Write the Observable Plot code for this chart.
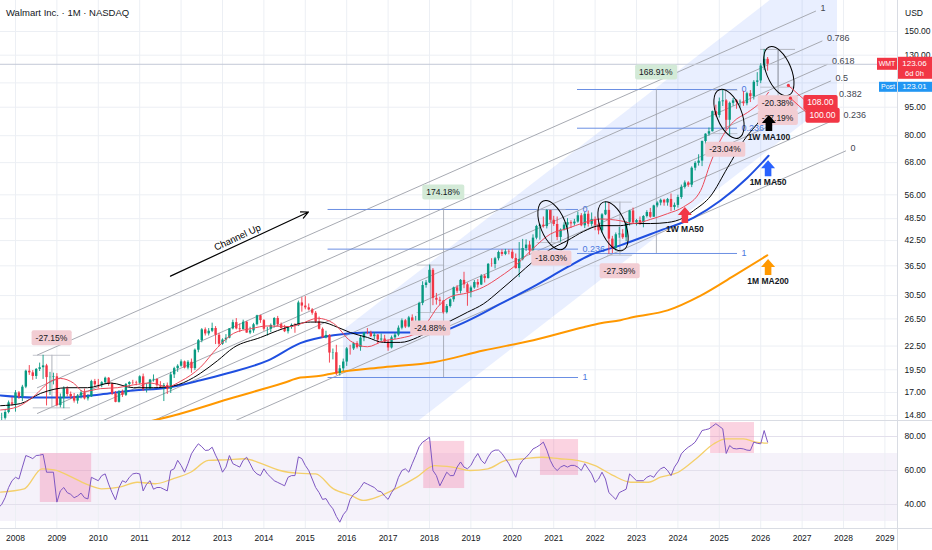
<!DOCTYPE html>
<html><head><meta charset="utf-8">
<script src="https://cdn.jsdelivr.net/npm/d3@7"></script>
<script src="https://cdn.jsdelivr.net/npm/@observablehq/plot@0.6"></script>
<style>
body{margin:0;background:#fff;}
#chart{position:relative;width:932px;height:550px;overflow:hidden;background:#fff;font-family:"Liberation Sans Narrow","Liberation Sans",Arial,sans-serif;color:#131722;}
#title{position:absolute;left:6px;top:7px;font-size:9.5px;z-index:5;}
#usd{position:absolute;left:905px;top:8px;font-size:8.5px;z-index:5;}
.pane{position:absolute;left:0;}
.sep{position:absolute;background:#d9dce3;z-index:4;}
</style></head><body>
<div id="chart">
  <div id="pricePane" class="pane" style="top:0"></div>
  <div id="rsiPane" class="pane" style="top:420px"></div>
  <div class="sep" style="left:0;top:420px;width:932px;height:1px"></div>
  <div class="sep" style="left:897px;top:0;width:1px;height:550px"></div>
  <div class="sep" style="left:0;top:528px;width:932px;height:1px"></div>
  <div id="title">Walmart Inc. · 1M · NASDAQ</div>
  <div id="usd">USD</div>
</div>
<script>
// ---------------- DATA ----------------
const firstMonth = {year: 2007, month: 8}; // first monthly candle: Aug 2007
const open = [
  14.55,14.54,14.55,15.07,15.97,
  15.84,16.96,16.53,17.56,19.33,19.14,18.73,19.54,19.74,19.96,18.60,18.63,
  18.69,15.71,16.41,17.37,16.80,16.56,16.14,16.63,16.96,16.36,16.56,18.16,
  17.81,17.80,18.03,18.53,17.87,16.85,16.02,17.06,16.71,17.84,18.06,18.03,
  17.98,18.69,17.32,17.35,18.33,18.40,17.71,17.57,17.74,17.30,18.91,19.63,
  19.92,20.45,19.70,20.40,19.63,21.94,23.24,24.81,24.21,24.60,25.01,24.01,
  22.74,23.33,23.59,24.95,25.91,24.95,24.83,25.97,24.33,24.65,25.58,27.01,
  26.23,24.90,24.91,25.48,26.57,25.59,25.02,24.53,25.17,25.49,25.42,29.18,
  28.63,28.33,27.97,27.42,26.01,24.89,23.64,23.99,21.57,21.61,19.08,19.61,
  20.43,22.12,22.11,22.83,22.29,23.60,24.34,24.32,23.81,24.04,23.34,23.47,
  23.04,22.24,23.64,24.03,25.06,26.20,25.23,26.66,26.02,26.05,29.10,32.41,
  32.92,35.53,30.00,29.66,29.49,27.51,28.55,29.74,31.95,31.30,33.43,32.55,
  31.05,31.94,33.00,32.51,34.28,33.80,36.83,36.79,38.09,39.56,39.09,39.70,
  39.61,38.16,35.89,37.87,40.51,41.36,39.93,43.13,46.28,46.64,46.25,50.94,
  48.05,46.83,43.31,45.27,46.64,47.34,47.00,47.52,49.36,46.46,49.81,46.87,
  48.23,46.60,45.06,49.64,51.00,42.88,40.53,44.02,44.20,43.23,47.44,50.81,
  47.26,47.96,47.36,49.15,50.33,48.93,52.39,53.29,54.20,53.31,54.47,51.90,
  52.55,55.10,58.61,60.17,59.35,65.76,67.71,68.64,77.23,80.75,81.94,92.50,
  90.35,98.16,98.68,87.79,97.25,98.72,97.78,97.95,97.01,103.06,101.19,110.40,
  111.30,121.80,126.80
];
const high = [
  15.05,15.00,15.35,16.15,16.50,
  17.20,17.10,17.75,19.45,20.00,19.40,19.65,20.30,21.28,20.15,19.20,19.10,
  19.05,16.85,17.60,17.60,17.05,16.90,16.80,17.20,17.35,16.80,18.30,18.40,
  18.40,18.15,18.65,18.60,18.00,17.10,17.20,17.25,17.95,18.15,18.30,18.20,
  18.80,19.00,17.90,18.40,18.90,18.45,18.15,17.95,18.00,19.20,19.80,20.10,
  20.70,20.55,20.60,20.80,22.10,23.40,25.00,25.10,25.00,25.83,25.30,24.30,
  23.50,24.10,25.00,26.30,26.55,25.70,26.30,26.10,25.20,25.80,27.09,27.10,
  26.40,25.20,25.70,26.70,26.90,25.85,25.50,25.30,25.70,25.75,29.50,30.13,
  30.32,29.00,28.20,27.70,26.80,25.10,24.60,24.10,22.10,22.60,20.00,20.80,
  22.30,22.60,23.00,23.10,23.90,24.40,25.00,24.60,24.40,24.10,24.20,24.00,
  23.30,23.90,24.30,25.40,26.50,26.40,26.90,27.15,26.90,29.30,33.15,33.40,
  36.66,35.90,30.90,30.20,29.60,28.90,29.90,32.10,32.40,33.60,35.10,32.90,
  32.30,33.40,33.60,34.60,34.60,37.00,38.10,38.40,39.90,40.20,40.30,40.20,
  40.30,39.20,42.00,42.80,42.70,42.30,44.00,46.60,46.90,49.00,51.22,51.00,
  49.20,49.00,45.60,47.30,48.50,47.90,48.30,50.50,50.00,50.40,50.80,50.20,
  49.00,47.30,50.00,53.59,53.40,43.60,44.50,46.00,45.40,47.60,51.00,51.70,
  48.30,49.00,49.40,50.90,51.60,52.60,53.70,54.60,54.50,54.80,56.30,53.30,
  55.90,59.40,60.90,60.60,66.30,68.40,71.30,77.50,80.90,83.80,92.80,96.18,
  100.40,105.30,99.40,98.00,100.10,99.40,99.20,104.50,104.00,105.00,111.50,117.00,
  123.50,134.60,128.20
];
const low = [
  13.95,14.30,14.40,14.95,15.65,
  15.10,16.30,16.10,17.40,18.85,18.30,18.40,19.30,18.40,15.68,16.70,17.80,
  15.60,15.50,15.42,16.55,16.30,15.95,15.85,16.35,16.25,16.15,16.50,17.60,
  17.40,17.50,17.90,17.65,16.70,15.98,15.95,16.50,16.60,17.55,17.80,17.70,
  17.80,17.10,16.95,17.20,18.10,17.55,17.50,16.10,16.80,16.90,18.50,19.20,
  19.80,19.60,19.50,19.10,19.40,21.60,22.95,23.90,23.90,24.40,22.70,22.40,
  22.60,22.90,23.50,24.80,24.80,24.40,24.80,24.30,24.10,24.30,25.40,25.80,
  24.60,23.90,24.40,25.10,25.30,24.90,24.40,24.20,24.90,24.30,25.30,27.60,
  28.00,27.80,27.10,25.80,24.80,23.60,23.50,20.30,20.70,18.84,18.77,19.30,
  19.90,21.30,21.90,22.10,21.80,23.10,24.10,23.70,23.40,22.70,22.90,22.90,
  21.80,22.10,23.40,23.80,24.80,25.00,25.10,25.80,25.80,25.90,28.70,31.90,
  32.80,28.70,28.80,28.70,27.26,27.30,28.30,29.30,30.90,30.80,31.80,28.60,
  30.10,31.70,31.90,32.40,32.90,33.70,36.20,35.80,37.60,38.60,38.80,39.00,
  37.90,35.80,34.00,37.60,39.80,38.90,39.60,42.70,42.60,45.80,45.60,47.30,
  46.30,42.50,42.09,45.00,45.40,45.70,46.40,47.20,46.20,45.70,46.10,46.20,
  45.10,44.00,44.40,49.40,39.09,39.30,39.90,43.10,42.80,42.20,46.40,47.00,
  46.40,46.60,45.90,48.70,48.60,48.90,51.80,52.40,52.30,52.30,50.60,51.00,
  51.70,54.50,58.00,58.60,58.50,64.70,66.60,66.40,75.80,79.70,81.80,89.50,
  89.00,95.40,82.80,79.81,95.50,93.80,94.40,95.50,95.80,97.70,99.20,107.60,
  109.50,118.50,118.00
];
const close = [
  14.54,14.55,15.07,15.97,15.84,
  16.96,16.53,17.56,19.33,19.14,18.73,19.54,19.74,19.96,18.60,18.63,18.69,
  15.71,16.41,17.37,16.80,16.56,16.14,16.63,16.96,16.36,16.56,18.16,17.81,
  17.80,18.03,18.53,17.87,16.85,16.02,17.06,16.71,17.84,18.06,18.03,17.98,
  18.69,17.32,17.35,18.33,18.40,17.71,17.57,17.74,17.30,18.91,19.63,19.92,
  20.45,19.70,20.40,19.63,21.94,23.24,24.81,24.21,24.60,25.01,24.01,22.74,
  23.33,23.59,24.95,25.91,24.95,24.83,25.97,24.33,24.65,25.58,27.01,26.23,
  24.90,24.91,25.48,26.57,25.59,25.02,24.53,25.17,25.49,25.42,29.18,28.63,
  28.33,27.97,27.42,26.01,24.89,23.64,23.99,21.57,21.61,19.08,19.61,20.43,
  22.12,22.11,22.83,22.29,23.60,24.34,24.32,23.81,24.04,23.34,23.47,23.04,
  22.24,23.64,24.03,25.06,26.20,25.23,26.66,26.02,26.05,29.10,32.41,32.92,
  35.53,30.00,29.66,29.49,27.51,28.55,29.74,31.95,31.30,33.43,32.55,31.05,
  31.94,33.00,32.51,34.28,33.80,36.83,36.79,38.09,39.56,39.09,39.70,39.61,
  38.16,35.89,37.87,40.51,41.36,39.93,43.13,46.28,46.64,46.25,50.94,48.05,
  46.83,43.31,45.27,46.64,47.34,47.00,47.52,49.36,46.46,49.81,46.87,48.23,
  46.60,45.06,49.64,51.00,42.88,40.53,44.02,44.20,43.23,47.44,50.81,47.26,
  47.96,47.36,49.15,50.33,48.93,52.39,53.29,54.20,53.31,54.47,51.90,52.55,
  55.10,58.61,60.17,59.35,65.76,67.71,68.64,77.23,80.75,81.94,92.50,90.35,
  98.16,98.68,87.79,97.25,98.72,97.78,97.95,97.01,103.06,101.19,110.40,111.30,
  121.80,126.80,123.06
];
const rsi = [
  38,40,44,50,54,
  56,55,62,68.8,68,67,68.8,69,69.5,59,59,59,
  41.4,48,50,47,46,44,45,46.7,44,43.3,56,55,
  54,57,58,52,47,42.7,50,54,53,56,58,58.4,
  58,48,52,54,49,50,50,49,48,60,61,66,
  63,59,64,69.8,73,75.7,74,71.8,72,73.7,69,64.9,
  59,62,68.8,64,63,62,66,67.8,64,60,58,57,
  61,58,56,54,53,52,51,56,57,57,68,67,
  63,60,55,50,47,43,43.5,40,37.5,33,29.6,34,
  36.5,43,46,47.3,50,53,52,51,50,48,47.5,45,
  43,47,50,56,60,61,59,64,68.8,74,76.7,78,
  79.6,60,57,51,55,59,57,57,62,65,62,61,
  63,67,70,66,64,68,71,72,72,70,67,64,
  60,56,63,66,67.8,70,72.7,73.7,75,76.7,72,66,
  62,60,62,63,62,63,63,62,60,64,61,58,
  53,55,59,55,47,45,43,47,48,49,58,56,
  54,54,54,56,57,56,59,61,62,60,57,62,
  65,69.8,72,73.7,75,76.7,80,83.5,84,84.5,86,87.5,
  86,84.5,70,74.7,73,72.7,73,72.7,72,71.8,76.7,76,
  75.7,83.5,76.7
];
// RSI-based moving average, read at sample dates (decimal years)
const rsiMaT = [2007.64,2008.21,2008.64,2008.93,2009.36,2009.79,2010.08,2010.51,2010.94,2011.37,2011.80,2012.23,2012.66,2013.09,2013.53,2013.96,2014.39,2014.82,2015.25,2015.68,2016.11,2016.40,2016.83,2017.26,2017.69,2018.12,2018.55,2018.98,2019.41,2019.85,2020.28,2020.71,2021.14,2021.57,2022.00,2022.43,2022.86,2023.29,2023.58,2024.01,2024.44,2024.87,2025.16,2025.59,2025.88,2026.16];
const rsiMaV = [47.3,49.2,61.0,60.4,56.1,51.2,49.2,50.2,53.1,52.2,55.1,59.0,65.9,66.3,66.9,63.9,60.0,58.4,58.0,49.2,45.3,42.4,45.3,50.2,56.1,62.9,62.0,60.0,61.0,65.9,66.9,67.8,66.9,65.9,62.9,57.1,53.1,53.1,56.1,59.0,66.9,75.7,78.6,78.6,76.7,76.1];
// moving averages read at sample dates
const ma1wFiftyT = [2007.64,2008.05,2008.44,2008.85,2009.09,2009.40,2009.64,2010.05,2010.46,2010.85,2011.26,2011.67,2011.99,2012.47,2012.88,2013.27,2013.70,2014.09,2014.64,2014.88,2015.30,2015.68,2016.09,2016.50,2016.89,2017.30,2017.71,2017.95,2018.19,2018.51,2018.92,2019.30,2019.71,2020.13,2020.51,2020.92,2021.33,2021.72,2022.13,2022.61,2022.93,2023.34,2023.75,2024.14,2024.55,2024.79,2025.03,2025.34,2025.68,2026.00,2026.19];
const ma1wFiftyV = [15.3,15.6,16.6,18.2,18.5,18.0,17.1,17.4,17.5,17.8,18.0,17.6,18.2,19.8,22.3,24.3,25.0,25.4,25.3,25.7,26.6,25.8,23.2,22.4,23.2,23.6,24.4,26.0,28.4,30.3,31.0,32.1,34.2,37.0,40.6,44.2,45.7,47.3,48.4,47.9,47.1,48.3,50.0,52.1,57.5,68.0,78.0,87.0,92.0,98.0,104.0];
const ma1wHundredT = [2007.64,2008.12,2008.60,2009.26,2009.74,2010.30,2010.85,2011.33,2011.82,2012.30,2012.47,2012.88,2013.27,2013.92,2014.47,2015.13,2015.37,2015.78,2016.09,2016.50,2016.89,2017.30,2017.71,2018.10,2018.51,2018.92,2019.30,2019.71,2020.13,2020.51,2020.92,2021.33,2021.72,2022.13,2022.61,2022.93,2023.34,2023.75,2024.14,2024.38,2024.79,2025.20,2025.59,2026.00,2026.19];
const ma1wHundredV = [15.7,15.9,16.9,17.5,17.5,18.0,17.5,17.5,17.7,18.6,19.1,20.6,22.3,23.7,25.0,26.0,26.0,25.2,24.4,23.7,23.0,23.0,23.7,25.0,26.2,27.6,29.0,31.5,34.5,37.5,40.3,42.5,44.9,46.5,46.5,47.1,47.1,47.4,48.8,50.9,55.6,66.0,77.7,88.2,94.2];
const ma1mFiftyT = [2007.64,2008.44,2009.26,2010.05,2010.85,2011.67,2012.47,2013.12,2014.09,2014.88,2015.68,2016.50,2017.30,2018.10,2018.92,2019.71,2020.51,2021.33,2021.87,2022.61,2023.58,2024.38,2025.03,2025.68,2026.19];
const ma1mFiftyV = [16.7,16.5,16.5,16.8,17.2,17.5,18.3,19.1,20.6,22.9,24.0,24.4,24.4,24.4,26.2,29.0,32.2,36.2,38.9,41.3,45.2,48.8,54.1,62.1,70.9];
const ma1mTwoHundredT = [2010.05,2011.82,2013.27,2014.47,2014.88,2015.37,2015.68,2016.89,2018.10,2019.30,2020.51,2021.72,2022.13,2022.61,2022.93,2023.75,2024.55,2025.34,2026.16];
const ma1mTwoHundredV = [13.4,14.8,16.5,18.0,18.6,18.8,19.1,19.8,20.4,21.9,23.3,25.2,25.8,26.3,26.8,27.9,30.5,34.3,38.9];
// axis ticks
const priceTicks = [14.8,17,19.5,22.5,26.5,30.5,36.5,42.5,48.5,56,68,80,95,110,130,150];
const priceLabelTicks = [14.8,17,19.5,22.5,26.5,30.5,36.5,42.5,48.5,56,68,80,95,130,150];
const years = [2008,2009,2010,2011,2012,2013,2014,2015,2016,2017,2018,2019,2020,2021,2022,2023,2024,2025,2026,2027,2028,2029];
const rsiTicks = [40,60,80];
const rsiBandLevels = [30,70];
// drawings (anchors in date / price)
const channelBand = [{t: 2015.923, lo: 10.07, hi: 24.72}, {t: 2027.855, lo: 100.7, hi: 247.5}];
const chanLevels = [0, 0.236, 0.382, 0.5, 0.618, 0.786, 1];
const chanStart = {t: 2008.53, p: 8.47};
const chanEnd = {t: 2028.05, p: 72.96};
const chanLevelOneRatio = 2.517;
const chanEndSlantYears = 0.725;
const fibs = [{t1: 2015.55, t2: 2021.60, hi: 51.27, lo: 18.61}, {t1: 2021.575, t2: 2025.44, hi: 105.7, lo: 39.32}];
const fibLevels = [0, 0.236, 1];
const ranges = [
  {t1: 2008.43, t2: 2009.33, from: 21.28, to: 15.50, text: "-27.15%", side: "top"},
  {t1: 2017.70, t2: 2018.35, from: 36.66, to: 27.54, text: "-24.88%", side: "bottom"},
  {t1: 2020.60, t2: 2021.30, from: 51.22, to: 42.00, text: "-18.03%", side: "bottom"},
  {t1: 2022.30, t2: 2022.90, from: 53.59, to: 38.91, text: "-27.39%", side: "bottom"},
  {t1: 2024.85, t2: 2025.45, from: 105.3, to: 81.0, text: "-23.04%", side: "bottom"},
  {t1: 2026.00, t2: 2026.84, from: 134.6, to: 107.2, text: "-20.38%", side: "bottom"},
  {t1: 2026.00, t2: 2026.84, from: 134.6, to: 98.0, text: "-27.19%", side: "bottom"}
];
const gains = [
  {t: 2018.34, from: 18.61, to: 51.27, text: "174.18%"},
  {t: 2023.48, from: 39.32, to: 105.7, text: "168.91%"}
];
const circles = [{t: 2020.995, p: 46.5}, {t: 2022.445, p: 46.2}, {t: 2025.246, p: 91.0}, {t: 2026.45, p: 117.7}];
const maArrows = [
  {t: 2024.18, p: 51.9, label: "1W MA50"},
  {t: 2026.21, p: 90.4, label: "1W MA100"},
  {t: 2026.19, p: 68.8, label: "1M MA50"},
  {t: 2026.19, p: 37.9, label: "1M MA200"}
];
const targets = [{t: 2026.68, p: 108}, {t: 2026.73, p: 100}];
const channelUp = {t1: 2011.744, p1: 34.3, t2: 2015.077, p2: 50.5, tText: 2013.36, pText: 43.3, text: "Channel Up"};
const rsiHighlights = [
  {t1: 2008.60, t2: 2009.84, lo: 41.2, hi: 70.0},
  {t1: 2017.86, t2: 2018.85, lo: 49.4, hi: 77.1},
  {t1: 2020.68, t2: 2021.60, lo: 57.1, hi: 78.2},
  {t1: 2024.79, t2: 2025.85, lo: 70.0, hi: 88.2}
];
const ticker = "WMT", postLabel = "Post", postPrice = 123.01, countdown = "6d 0h";

// ---------------- STYLE ----------------
const FONT = '"Liberation Sans Narrow","Liberation Sans",Arial,sans-serif';
const INK = "#131722", GRID = "#eceff4";
const GREEN = "#089981", RED = "#f23645";
const arrowColors = {"1W MA50": RED, "1W MA100": "#000000", "1M MA50": "#2962ff", "1M MA200": "#ff9800"};
const X_DOMAIN = [2007.638, 2029.304];
const Y_DOMAIN = [14.36, 180.8];
const RSI_DOMAIN = [25.9, 89.4];
const W = 932, MR = 35;

// ---------------- DERIVED TABLES ----------------
const monthT = i => firstMonth.year + (firstMonth.month - 1 + i) / 12;
const candles = close.map((c, i) => ({t: monthT(i), o: open[i], h: high[i], l: low[i], c}));
const rsiData = rsi.map((v, i) => ({t: monthT(i), v}));
const zipT = (T, V) => T.map((t, i) => ({t, p: V[i]}));
const maRed = zipT(ma1wFiftyT, ma1wFiftyV), maBlack = zipT(ma1wHundredT, ma1wHundredV);
const maBlue = zipT(ma1mFiftyT, ma1mFiftyV), maOrange = zipT(ma1mTwoHundredT, ma1mTwoHundredV);
const rsiMa = rsiMaT.map((t, i) => ({t, v: rsiMaV[i]}));
const pAtBase = t => chanStart.p * Math.pow(chanEnd.p / chanStart.p, (t - chanStart.t) / (chanEnd.t - chanStart.t));
const chanLines = chanLevels.flatMap(L => {
  const tE = chanEnd.t - chanEndSlantYears * L, k = Math.pow(chanLevelOneRatio, L);
  return [{L, t: chanStart.t, p: chanStart.p * k}, {L, t: tE, p: pAtBase(tE) * k, end: true}];
});
const chanLabels = chanLines.filter(d => d.end);
const fibLines = fibs.flatMap(f => fibLevels.map(L => ({L, t1: f.t1, t2: f.t2,
  p: Math.exp(Math.log(f.hi) - L * (Math.log(f.hi) - Math.log(f.lo)))})));
const rangeTicks = ranges.flatMap(r => [{t1: r.t1, t2: r.t2, p: r.from}, {t1: r.t1, t2: r.t2, p: r.to}]);
const lastClose = close[close.length - 1];
const rsiBand = [{t1: X_DOMAIN[0], t2: X_DOMAIN[1], lo: rsiBandLevels[0], hi: rsiBandLevels[1]}];

// ---------------- PRICE PANE ----------------
const pricePlot = Plot.plot({
  width: W, height: 420, marginTop: 0, marginRight: MR, marginBottom: 0, marginLeft: 0,
  style: {fontFamily: FONT, fontSize: "8.5px", color: INK, background: "transparent", overflow: "hidden"},
  x: {domain: X_DOMAIN, axis: null},
  y: {type: "log", domain: Y_DOMAIN, axis: null},
  marks: [
    Plot.gridX(years, {stroke: GRID, strokeOpacity: 1}),
    Plot.gridY(priceTicks, {stroke: GRID, strokeOpacity: 1}),
    Plot.areaY(channelBand, {x: "t", y1: "lo", y2: "hi", fill: "#2962ff", fillOpacity: 0.1, clip: true}),
    Plot.line(chanLines, {x: "t", y: "p", z: "L", stroke: "#a7aab2", strokeWidth: 1, clip: true}),
    Plot.text(chanLabels, {x: "t", y: "p", text: d => String(d.L), dx: 5, dy: -3, textAnchor: "start", fill: "#434651", fontSize: 9}),
    Plot.ruleY(fibLines, {y: "p", x1: "t1", x2: "t2", stroke: "#6b8fe3", strokeWidth: 1}),
    Plot.text(fibLines, {x: "t2", y: "p", text: d => String(d.L), dx: 4, textAnchor: "start", fill: "#4a78de", fontSize: 9}),
    Plot.ruleY([lastClose], {stroke: "#c3c9d6", strokeWidth: 1}),
    Plot.ruleX(ranges, {x: d => (d.t1 + d.t2) / 2, y1: "from", y2: "to", stroke: "#9aa0ab", strokeWidth: 0.8}),
    Plot.ruleY(rangeTicks, {y: "p", x1: "t1", x2: "t2", stroke: "#b4b8c2", strokeWidth: 0.8}),
    Plot.ruleX(gains, {x: "t", y1: "from", y2: "to", stroke: "#9aa0ab", strokeWidth: 0.8}),
    Plot.arrow([channelUp], {x1: "t1", y1: "p1", x2: "t2", y2: "p2", stroke: "#000", strokeWidth: 1.2, headLength: 10, headAngle: 50}),
    Plot.text([channelUp], {x: "tText", y: "pText", text: "text", rotate: -24.9, fill: "#000", fontSize: 9.5}),
    Plot.line(maOrange, {x: "t", y: "p", stroke: "#ff9800", strokeWidth: 2, curve: "monotone-x", clip: true}),
    Plot.line(maBlue, {x: "t", y: "p", stroke: "#1f4fe0", strokeWidth: 2, curve: "monotone-x", clip: true}),
    Plot.ruleX(candles, {x: "t", y1: "l", y2: "h", stroke: d => d.c >= d.o ? GREEN : RED, strokeWidth: 0.9, clip: true}),
    Plot.ruleX(candles, {x: "t", y1: "o", y2: "c", stroke: d => d.c >= d.o ? GREEN : RED, strokeWidth: 2.4, clip: true}),
    Plot.line(maBlack, {x: "t", y: "p", stroke: "#000", strokeWidth: 1, curve: "monotone-x", clip: true}),
    Plot.line(maRed, {x: "t", y: "p", stroke: "#ec4a5a", strokeWidth: 1, curve: "monotone-x", clip: true}),
    Plot.axisY(priceLabelTicks, {anchor: "right", tickSize: 0, tickPadding: 7, tickFormat: d => d.toFixed(2), fill: INK, label: null})
  ]
});
document.getElementById("pricePane").append(pricePlot);

// annotation layer drawn through the plot's own scales
const sx = pricePlot.scale("x"), sy = pricePlot.scale("y");
const X = t => sx.apply(t), Y = p => sy.apply(p);
const AX = W - MR;
const g = d3.select(pricePlot).append("g").attr("font-family", FONT).attr("font-size", 8.5).attr("text-anchor", "start");

function boxLabel(parent, cx, cy, text, fill, color, padX = 4, h = 15, anchor = "middle", weight = "normal") {
  const grp = parent.append("g");
  const t = grp.append("text").attr("x", cx).attr("y", cy).attr("text-anchor", anchor)
    .attr("dominant-baseline", "central").attr("fill", color).attr("font-weight", weight).text(text);
  const bb = t.node().getBBox();
  grp.insert("rect", "text").attr("x", bb.x - padX).attr("y", cy - h / 2).attr("width", bb.width + 2 * padX)
    .attr("height", h).attr("rx", 2).attr("fill", fill);
  return grp;
}

// ellipses
g.selectAll("ellipse").data(circles).join("ellipse")
  .attr("cx", d => X(d.t)).attr("cy", d => Y(d.p)).attr("rx", 12.5).attr("ry", 26)
  .attr("transform", d => `rotate(-22 ${X(d.t)} ${Y(d.p)})`)
  .attr("fill", "none").attr("stroke", "#000").attr("stroke-width", 1);

// percentage boxes
ranges.forEach(r => {
  const cx = X((r.t1 + r.t2) / 2);
  const cy = r.side === "top" ? Y(Math.max(r.from, r.to)) - 17 : Y(Math.min(r.from, r.to)) + 16;
  boxLabel(g, cx, cy, r.text, "#f2cdd3", INK);
});
gains.forEach(r => boxLabel(g, X(r.t), Y(Math.max(r.from, r.to)) - 17, r.text, "#d3ead7", INK));

// block arrows under the moving averages
maArrows.forEach(a => {
  const x = X(a.t), y = Y(a.p);
  g.append("path").attr("d", `M${x},${y} L${x + 7},${y + 8} L${x + 3.3},${y + 8} L${x + 3.3},${y + 16} L${x - 3.3},${y + 16} L${x - 3.3},${y + 8} L${x - 7},${y + 8} Z`)
    .attr("fill", arrowColors[a.label]);
  g.append("text").attr("x", x).attr("y", y + 22).attr("text-anchor", "middle").attr("dominant-baseline", "central")
    .attr("font-weight", "bold").attr("fill", INK).attr("font-size", 8.5).text(a.label);
});

// targets
targets.forEach(d => {
  const x = X(d.t), y = Y(d.p);
  g.append("line").attr("x1", x).attr("y1", y).attr("x2", x + 19).attr("y2", y + 17).attr("stroke", RED).attr("stroke-width", 0.9);
  g.append("circle").attr("cx", x).attr("cy", y).attr("r", 1.6).attr("fill", RED);
  boxLabel(g, x + 19, y + 17, d.p.toFixed(2), RED, "#fff", 4, 15, "start");
});

// last price tags on the axis
const yl = Y(lastClose);
g.append("rect").attr("x", AX - 20).attr("y", yl - 6).attr("width", 20).attr("height", 12).attr("fill", RED);
g.append("text").attr("x", AX - 10).attr("y", yl).attr("text-anchor", "middle").attr("dominant-baseline", "central").attr("fill", "#fff").attr("font-size", 7).text(ticker);
g.append("rect").attr("x", AX).attr("y", yl - 7).attr("width", MR).attr("height", 22).attr("fill", RED);
g.append("text").attr("x", AX + 17.5).attr("y", yl).attr("text-anchor", "middle").attr("dominant-baseline", "central").attr("fill", "#fff").attr("font-size", 8).text(lastClose.toFixed(2));
g.append("text").attr("x", AX + 17.5).attr("y", yl + 10).attr("text-anchor", "middle").attr("dominant-baseline", "central").attr("fill", "#fff").attr("font-size", 7.5).text(countdown);
g.append("rect").attr("x", AX - 18).attr("y", yl + 18).attr("width", 18).attr("height", 10).attr("fill", "#2196f3");
g.append("text").attr("x", AX - 9).attr("y", yl + 23).attr("text-anchor", "middle").attr("dominant-baseline", "central").attr("fill", "#fff").attr("font-size", 7).text(postLabel);
g.append("rect").attr("x", AX).attr("y", yl + 18).attr("width", MR).attr("height", 10).attr("fill", "#2196f3");
g.append("text").attr("x", AX + 17.5).attr("y", yl + 23).attr("text-anchor", "middle").attr("dominant-baseline", "central").attr("fill", "#fff").attr("font-size", 8).text(postPrice.toFixed(2));

// ---------------- RSI PANE ----------------
const rsiPlot = Plot.plot({
  width: W, height: 130, marginTop: 0, marginRight: MR, marginBottom: 22, marginLeft: 0,
  style: {fontFamily: FONT, fontSize: "8.5px", color: INK, background: "transparent"},
  x: {domain: X_DOMAIN, axis: null},
  y: {domain: RSI_DOMAIN, axis: null},
  marks: [
    Plot.rect(rsiBand, {x1: "t1", x2: "t2", y1: "lo", y2: "hi", fill: "#7e57c2", fillOpacity: 0.08}),
    Plot.gridX(years, {stroke: GRID, strokeOpacity: 1}),
    Plot.gridY(rsiTicks, {stroke: "#e3e0ec", strokeOpacity: 1}),
    Plot.rect(rsiHighlights, {x1: "t1", x2: "t2", y1: "lo", y2: "hi", fill: "#f06292", fillOpacity: 0.28}),
    Plot.line(rsiMa, {x: "t", y: "v", stroke: "#f4cf6a", strokeWidth: 1.3, curve: "monotone-x", clip: true}),
    Plot.line(rsiData, {x: "t", y: "v", stroke: "#7e57c2", strokeWidth: 1, clip: true}),
    Plot.axisY(rsiTicks, {anchor: "right", tickSize: 0, tickPadding: 7, tickFormat: d => d.toFixed(2), fill: INK, label: null}),
    Plot.axisX(years, {anchor: "bottom", tickSize: 0, tickPadding: 6, tickFormat: d => String(d), fill: INK, label: null})
  ]
});
document.getElementById("rsiPane").append(rsiPlot);
</script>
</body></html>
